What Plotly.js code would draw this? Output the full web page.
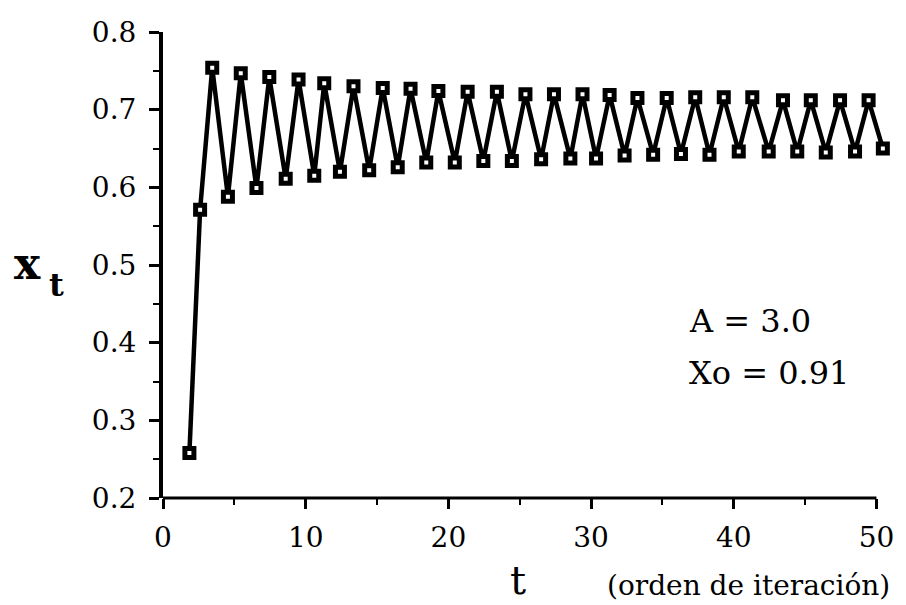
<!DOCTYPE html>
<html>
<head>
<meta charset="utf-8">
<script src="https://cdn.plot.ly/plotly-3.0.1.min.js"></script>
<style>html,body{margin:0;padding:0;background:#fff;}#chart{width:906px;height:605px;}</style>
</head>
<body>
<div id="chart"></div>
<script>
// iteration positions
const iterT = [1.85, 2.6, 3.45, 4.55, 5.45, 6.55, 7.45, 8.6, 9.5, 10.6,
  11.3, 12.4, 13.35, 14.45, 15.4, 16.45, 17.35, 18.45, 19.3, 20.45,
  21.35, 22.45, 23.4, 24.45, 25.4, 26.5, 27.4, 28.55, 29.4, 30.35,
  31.3, 32.35, 33.25, 34.35, 35.3, 36.3, 37.3, 38.3, 39.3, 40.35,
  41.3, 42.45, 43.45, 44.45, 45.4, 46.45, 47.45, 48.5, 49.45, 50.45];
// x_t values
const xValues = [0.258, 0.571, 0.754, 0.588, 0.747, 0.599, 0.742, 0.611, 0.739, 0.615,
  0.734, 0.620, 0.730, 0.622, 0.728, 0.626, 0.727, 0.632, 0.724, 0.632,
  0.723, 0.634, 0.723, 0.634, 0.720, 0.636, 0.720, 0.637, 0.720, 0.637,
  0.719, 0.641, 0.715, 0.642, 0.715, 0.643, 0.716, 0.642, 0.716, 0.646,
  0.716, 0.646, 0.712, 0.646, 0.712, 0.645, 0.712, 0.646, 0.712, 0.650];
const xTickVals = [0, 10, 20, 30, 40, 50];
const xTickText = ["0", "10", "20", "30", "40", "50"];
const yTickVals = [0.2, 0.3, 0.4, 0.5, 0.6, 0.7, 0.8];
const yTickText = ["0.2", "0.3", "0.4", "0.5", "0.6", "0.7", "0.8"];
const paramText = ["A = 3.0", "Xo = 0.91"];

const FONT = "DejaVu Serif, Liberation Serif, serif";

const trace = {
  x: iterT, y: xValues, type: "scatter", mode: "lines+markers",
  line: {color: "#000", width: 4.5},
  marker: {symbol: "square", size: 9, color: "#fff", line: {color: "#000", width: 5}},
  cliponaxis: false, hoverinfo: "skip"
};

const layout = {
  width: 906, height: 605,
  margin: {l: 163, r: 21, t: 32, b: 107},
  paper_bgcolor: "#fff", plot_bgcolor: "#fff",
  showlegend: false,
  font: {family: FONT, color: "#000"},
  xaxis: {
    range: [0, 50.6], showgrid: false, zeroline: false,
    showline: false,
    tickmode: "array", tickvals: xTickVals, ticktext: xTickText,
    ticks: "outside", ticklen: 10, tickwidth: 3, tickcolor: "#000",
    minor: {dtick: 5, tick0: 0, ticks: "outside", ticklen: 6, tickwidth: 2, tickcolor: "#000", showgrid: false},
    tickfont: {family: FONT, size: 28, color: "#000"},
    ticklabelstandoff: 4
  },
  yaxis: {
    range: [0.2, 0.8], showgrid: false, zeroline: false,
    showline: true, linecolor: "#000", linewidth: 4,
    tickmode: "array", tickvals: yTickVals, ticktext: yTickText,
    ticks: "outside", ticklen: 10, tickwidth: 3, tickcolor: "#000",
    minor: {dtick: 0.05, tick0: 0.2, ticks: "outside", ticklen: 6, tickwidth: 2, tickcolor: "#000", showgrid: false},
    tickfont: {family: FONT, size: 28, color: "#000"},
    ticklabelstandoff: 7
  },
  shapes: [
    {type: "line", xref: "x", yref: "paper", x0: 0, x1: 50, y0: 0, y1: 0,
     line: {color: "#000", width: 3}}
  ],
  annotations: [
    {text: "t", xref: "paper", yref: "paper", x: 0.492, y: -0.176, xanchor: "center", yanchor: "middle",
     showarrow: false, font: {family: FONT, size: 40, color: "#000"}},
    {text: "(orden de iteración)", xref: "paper", yref: "paper", x: 0.612, y: -0.187, xanchor: "left", yanchor: "middle",
     showarrow: false, font: {family: FONT, size: 28, color: "#000"}},
    {text: "x", xref: "paper", yref: "paper", x: -0.188, y: 0.503, xanchor: "center", yanchor: "middle",
     showarrow: false, font: {family: FONT, size: 44, color: "#000", weight: "bold"}},
    {text: "t", xref: "paper", yref: "paper", x: -0.147, y: 0.458, xanchor: "center", yanchor: "middle",
     showarrow: false, font: {family: FONT, size: 32, color: "#000", weight: "bold"}},
    {text: paramText[0], xref: "paper", yref: "paper", x: 0.726, y: 0.38, xanchor: "left", yanchor: "middle",
     showarrow: false, font: {family: FONT, size: 32, color: "#000"}},
    {text: paramText[1], xref: "paper", yref: "paper", x: 0.726, y: 0.268, xanchor: "left", yanchor: "middle",
     showarrow: false, font: {family: FONT, size: 32, color: "#000"}}
  ]
};

Plotly.newPlot("chart", [trace], layout, {staticPlot: true, displayModeBar: false});
</script>
</body>
</html>
